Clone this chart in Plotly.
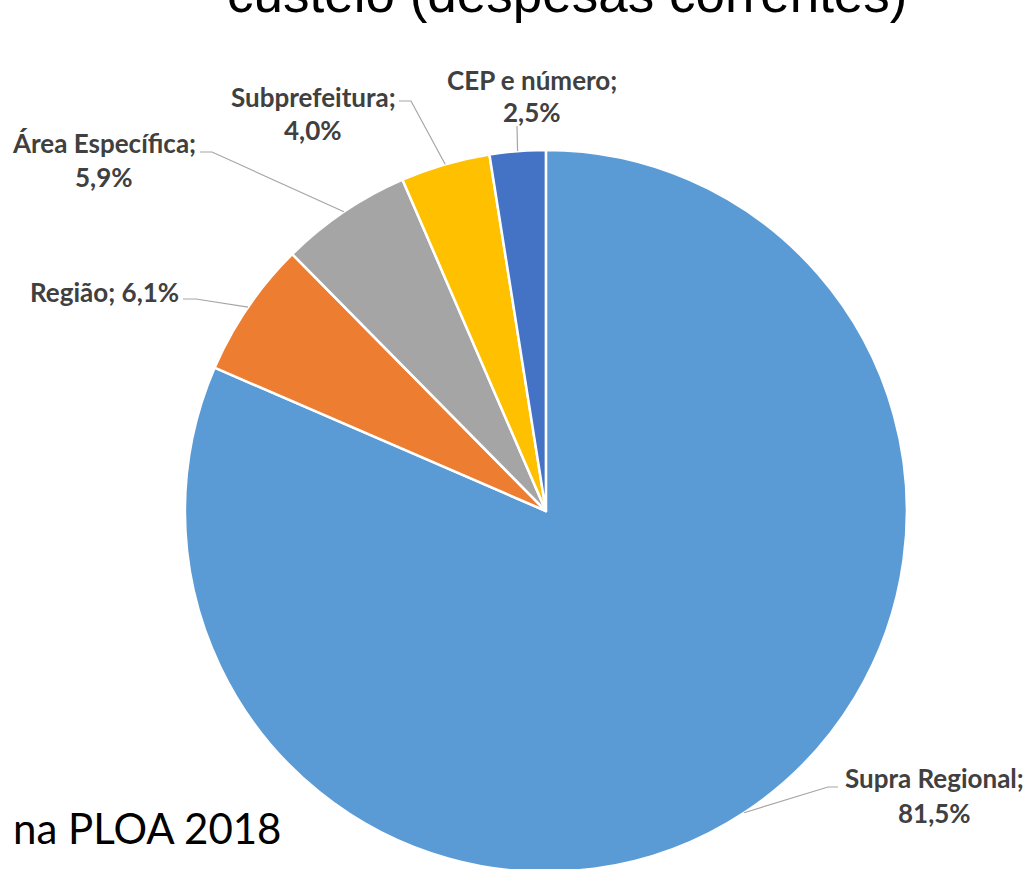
import math
import plotly.graph_objects as go

# ---- data ----
categories = ["Supra Regional", "Região", "Área Específica", "Subprefeitura", "CEP e número"]
values = [81.5, 6.1, 5.9, 4.0, 2.5]
value_labels = ["81,5%", "6,1%", "5,9%", "4,0%", "2,5%"]
colors = ["#5B9BD5", "#ED7D31", "#A5A5A5", "#FFC000", "#4472C4"]

title_text = "custeio (despesas correntes)"
footer_text = "na PLOA 2018"

# ---- layout / style ----
W, H = 1030, 876   # slightly taller than the window so the pie bottom is clipped like the reference
dom_x = [0.1795, 0.8805]
dom_y = [4 / 876, 726 / 876]
label_font = dict(family="Lato, 'Open Sans', sans-serif", size=26, color="#404040")
leader_color = "#A6A6A6"

# label placement (pixel centres) and leader elbow/end points, per category
label_style = {
    "Supra Regional": dict(two_lines=True, l1=(934, 778), l2=(934, 813), elbow=(828, 787), end=(838, 787)),
    "Região": dict(two_lines=False, l1=(104, 292), elbow=(196, 299), end=(183, 299)),
    "Área Específica": dict(two_lines=True, l1=(104, 143), l2=(104, 177), elbow=(212, 152), end=(200, 152)),
    "Subprefeitura": dict(two_lines=True, l1=(313, 97), l2=(313, 130), elbow=(411, 101), end=(399, 101)),
    "CEP e número": dict(two_lines=True, l1=(532, 80), l2=(532, 112), elbow=(517, 126), end=(517, 126)),
}

fig = go.Figure(go.Pie(
    labels=categories,
    values=values,
    sort=False,
    direction="clockwise",
    rotation=0,
    marker=dict(colors=colors, line=dict(color="white", width=2.5)),
    textinfo="none",
    hoverinfo="label+percent",
    domain=dict(x=dom_x, y=dom_y),
    showlegend=False,
))

# pie geometry in pixels (derived from the domain)
dw = (dom_x[1] - dom_x[0]) * W
dh = (dom_y[1] - dom_y[0]) * H
r = min(dw, dh) / 2
cx = (dom_x[0] + dom_x[1]) / 2 * W
cy = H - (dom_y[0] + dom_y[1]) / 2 * H


def px(x):
    return x / W


def py(y):
    return 1 - y / H


total = sum(values)
cum = 0.0
annotations = []
shapes = []
for cat, val, vl in zip(categories, values, value_labels):
    mid = (cum + val / 2) / total * 2 * math.pi
    cum += val
    ax = cx + r * math.sin(mid)
    ay = cy - r * math.cos(mid)
    st = label_style[cat]
    ex, ey = st["elbow"]
    tx, ty = st["end"]
    shapes.append(dict(type="path", xref="paper", yref="paper",
                       path=f"M {px(ax)},{py(ay)} L {px(ex)},{py(ey)} L {px(tx)},{py(ty)}",
                       line=dict(color=leader_color, width=1.2)))
    if st["two_lines"]:
        annotations.append(dict(text=f"<b>{cat};</b>", x=px(st["l1"][0]), y=py(st["l1"][1]),
                                xref="paper", yref="paper", showarrow=False,
                                xanchor="center", yanchor="middle", font=label_font))
        annotations.append(dict(text=f"<b>{vl}</b>", x=px(st["l2"][0]), y=py(st["l2"][1]),
                                xref="paper", yref="paper", showarrow=False,
                                xanchor="center", yanchor="middle", font=label_font))
    else:
        annotations.append(dict(text=f"<b>{cat}; {vl}</b>", x=px(st["l1"][0]), y=py(st["l1"][1]),
                                xref="paper", yref="paper", showarrow=False,
                                xanchor="center", yanchor="middle", font=label_font))

annotations.append(dict(text=title_text, x=px(567), y=py(25), xref="paper", yref="paper",
                        showarrow=False, xanchor="center", yanchor="bottom",
                        font=dict(family="'Liberation Sans', Arial, sans-serif",
                                  size=53, color="#000000")))
annotations.append(dict(text=footer_text, x=px(11), y=py(828), xref="paper", yref="paper",
                        showarrow=False, xanchor="left", yanchor="middle",
                        font=dict(family="Lato, 'Open Sans', sans-serif", size=42, color="#000000")))

fig.update_layout(
    width=W, height=H,
    margin=dict(l=0, r=0, t=0, b=0),
    paper_bgcolor="white", plot_bgcolor="white",
    annotations=annotations,
    shapes=shapes,
)

fig.write_html("out.html", config={"displayModeBar": False},
               post_script="document.body.style.margin='0';document.body.style.overflow='hidden';")
